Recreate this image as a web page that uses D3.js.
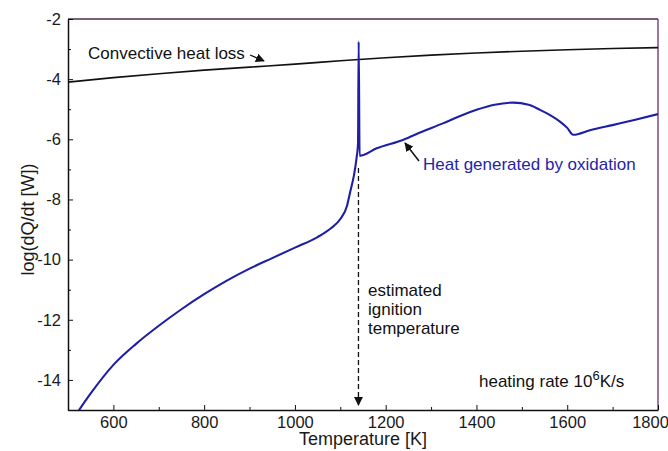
<!DOCTYPE html>
<html><head><meta charset="utf-8">
<script src="https://cdn.jsdelivr.net/npm/d3@7"></script>
<style>
body{margin:0;background:#fff;}
svg{display:block;font-family:"Liberation Sans",Arial,sans-serif;}
</style></head><body>
<svg id="c" width="668" height="451"></svg>
<script>
// ---- data ----
const convT    = [500, 600, 700, 800, 900, 1000, 1100, 1200, 1300, 1400, 1500, 1600, 1700, 1800];
const convLogQ = [-4.1, -3.95, -3.82, -3.7, -3.6, -3.5, -3.39, -3.29, -3.2, -3.13, -3.07, -3.02, -2.98, -2.95];

const oxT    = [520, 550, 600, 650, 700, 750, 800, 850, 900, 950, 1000, 1050, 1080, 1100, 1115, 1121, 1130, 1136, 1139, 1140.5, 1142.5,
                1180, 1238, 1280, 1326, 1360, 1400, 1440, 1481, 1515, 1540, 1565, 1584, 1600, 1613, 1650, 1702, 1750, 1800];
const oxLogQ = [-15.1, -14.45, -13.5, -12.8, -12.2, -11.65, -11.15, -10.7, -10.3, -9.95, -9.6, -9.25, -8.95, -8.65, -8.2, -7.8, -7.2, -6.6, -6.15, -2.75, -6.55,
                -6.3, -6.02, -5.75, -5.47, -5.25, -5.02, -4.85, -4.78, -4.85, -5.02, -5.22, -5.41, -5.62, -5.85, -5.7, -5.52, -5.35, -5.16];

const xMajorTicks = [600, 800, 1000, 1200, 1400, 1600, 1800];
const xMinorTicks = [500, 700, 900, 1100, 1300, 1500, 1700];
const yMajorTicks = [-2, -4, -6, -8, -10, -12, -14];
const yMinorTicks = [-3, -5, -7, -9, -11, -13, -15];
const ignitionT = 1140;

// ---- layout ----
const L = 68, R = 658, T = 19, B = 410;
const svg = d3.select("#c");
const x = d3.scaleLinear().domain([500, 1800]).range([L, R]);
const y = d3.scaleLinear().domain([-15, -2]).range([B, T]);

svg.append("defs").append("clipPath").attr("id","clip")
  .append("rect").attr("x",L).attr("y",T).attr("width",R-L).attr("height",B-T);
const mk = svg.select("defs").append("marker").attr("id","ah").attr("viewBox","0 0 10 10")
  .attr("refX",9).attr("refY",5).attr("markerWidth",9).attr("markerHeight",9)
  .attr("markerUnits","userSpaceOnUse").attr("orient","auto");
mk.append("path").attr("d","M0,0 L10,5 L0,10 Z").attr("fill","#111");

// frame top/right
svg.append("line").attr("x1",L).attr("x2",R).attr("y1",T).attr("y2",T).attr("stroke","#4d2a4d").attr("stroke-width",1.3);
svg.append("line").attr("x1",R).attr("x2",R).attr("y1",T).attr("y2",B).attr("stroke","#6e2f6e").attr("stroke-width",1.3);

// axes
const tfs = "16.5px", afs = "17px";
svg.append("g").attr("transform",`translate(0,${B})`)
  .call(d3.axisBottom(x).tickValues(xMajorTicks).tickSizeInner(-5).tickSizeOuter(0).tickPadding(6).tickFormat(d3.format("d")))
  .selectAll(".tick text").filter(d => d === 1800).attr("dx", -8);
svg.append("g").attr("transform",`translate(0,${B})`)
  .call(d3.axisBottom(x).tickValues(xMinorTicks).tickSizeInner(-3).tickSizeOuter(0).tickFormat(""))
  .select(".domain").remove();
svg.append("g").attr("transform",`translate(${L},0)`)
  .call(d3.axisLeft(y).tickValues(yMajorTicks).tickSizeInner(-5).tickSizeOuter(0).tickPadding(7).tickFormat(d => String(d)));
svg.append("g").attr("transform",`translate(${L},0)`)
  .call(d3.axisLeft(y).tickValues(yMinorTicks).tickSizeInner(-3).tickSizeOuter(0).tickFormat(""))
  .select(".domain").remove();
svg.selectAll(".domain").attr("stroke","#111").attr("stroke-width",1.5);
svg.selectAll(".tick line").attr("stroke","#111");
svg.selectAll(".tick text").style("font-size",tfs).attr("fill","#1a1a1a").style("font-family","Liberation Sans, Arial, sans-serif");

// axis titles
svg.append("text").attr("x",(L+R)/2).attr("y",445).attr("text-anchor","middle")
  .style("font-size","18px").attr("fill","#1a1a1a").text("Temperature [K]");
svg.append("text").attr("transform",`translate(34,${(T+B)/2+5}) rotate(-90)`).attr("text-anchor","middle")
  .style("font-size","18px").attr("fill","#1a1a1a").text("log(dQ/dt [W])");

// lines
const g = svg.append("g").attr("clip-path","url(#clip)");
const lineConv = d3.line().x((d,i)=>x(convT[i])).y(d=>y(d)).curve(d3.curveMonotoneX);
g.append("path").attr("d",lineConv(convLogQ)).attr("fill","none").attr("stroke","#111").attr("stroke-width",1.6);
const lineOx = d3.line().x((d,i)=>x(oxT[i])).y(d=>y(d)).curve(d3.curveMonotoneX);
g.append("path").attr("d",lineOx(oxLogQ)).attr("fill","none").attr("stroke","#1f1fa6").attr("stroke-width",2.1);

// ignition dashed arrow
svg.append("line").attr("x1",x(ignitionT)).attr("x2",x(ignitionT)).attr("y1",168).attr("y2",405)
  .attr("stroke","#111").attr("stroke-width",1.3).attr("stroke-dasharray","5,3").attr("marker-end","url(#ah)");

// annotations
svg.append("text").attr("x",88).attr("y",59).style("font-size",afs).attr("fill","#111").text("Convective heat loss");
svg.append("line").attr("x1",250).attr("y1",55).attr("x2",264).attr("y2",61).attr("stroke","#111").attr("stroke-width",1.3).attr("marker-end","url(#ah)");

svg.append("text").attr("x",423).attr("y",170).style("font-size",afs).attr("fill","#2525a8").text("Heat generated by oxidation");
svg.append("line").attr("x1",419).attr("y1",161).attr("x2",405).attr("y2",143).attr("stroke","#111").attr("stroke-width",1.5).attr("marker-end","url(#ah)");

const lab = ["estimated","ignition","temperature"];
svg.append("g").selectAll("text").data(lab).join("text")
  .attr("x",368).attr("y",(d,i)=>296+i*19).style("font-size",afs).attr("fill","#111").text(d=>d);

const hr = svg.append("text").attr("x",479).attr("y",387).style("font-size",afs).attr("fill","#111");
hr.append("tspan").text("heating rate 10");
hr.append("tspan").attr("dy",-7).style("font-size","13px").text("6");
hr.append("tspan").attr("dy",7).text("K/s");
</script></body></html>
